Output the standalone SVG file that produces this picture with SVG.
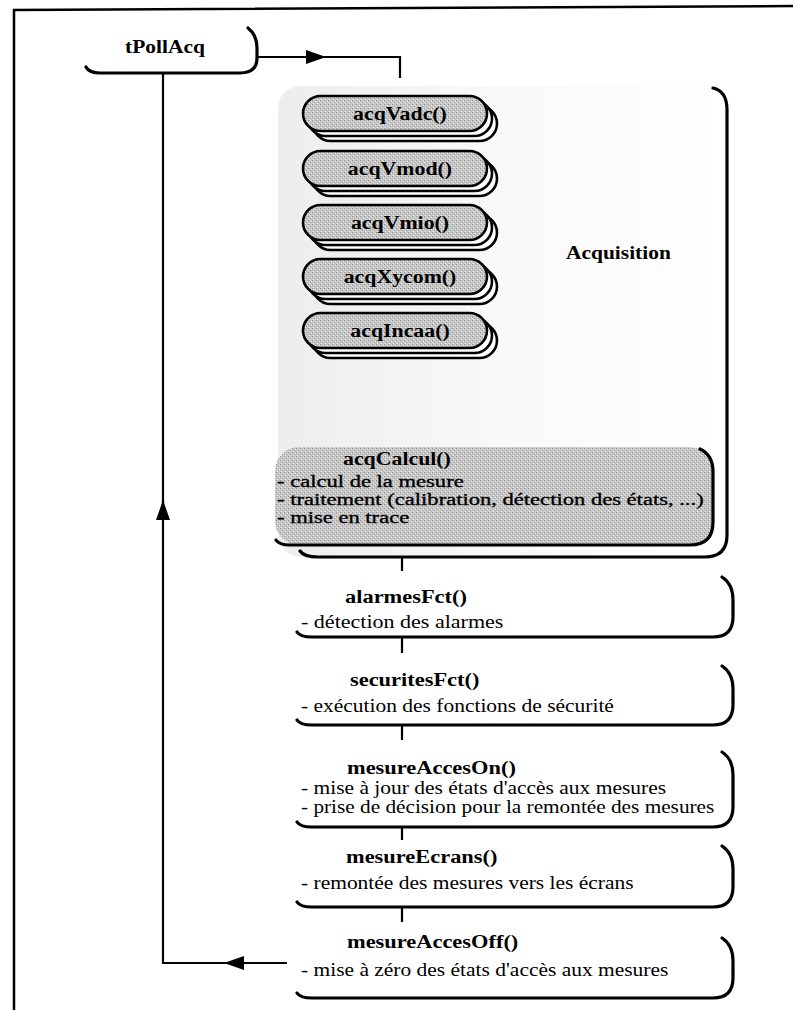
<svg xmlns="http://www.w3.org/2000/svg" width="793" height="1010" viewBox="0 0 793 1010">
  <defs>
    <style>
      .frame { fill: none; stroke: #000; stroke-width: 2.5; }
      .wire { fill: none; stroke: #000; stroke-width: 2.2; }
      .dash { fill: none; stroke: #000; stroke-width: 2.6; stroke-dasharray: 10 5; }
      .shadow { fill: none; stroke: #000; stroke-width: 3.2; stroke-linecap: round; }
      .card { fill: url(#stipple); stroke: #000; stroke-width: 2.6; }
      .cardback { fill: #fff; stroke: #000; stroke-width: 2.6; }
      .txt { font-family: "Liberation Serif", "Times New Roman", serif; font-size: 19px; fill: #000; }
      .b { font-weight: bold; font-size: 19.5px; }
      .heavy { stroke: #000; stroke-width: 0.35; font-size: 17.5px; }
      .mid { text-anchor: middle; }
    </style>
    <!-- halftone grey used for the acquisition routines -->
    <pattern id="stipple" width="4" height="4" patternUnits="userSpaceOnUse">
      <rect width="4" height="4" fill="#c6c6c6"/>
      <rect x="0" y="0" width="1" height="1" fill="#929292"/>
      <rect x="2" y="2" width="1" height="1" fill="#a2a2a2"/>
      <rect x="3" y="1" width="1" height="1" fill="#e6e6e6"/>
      <rect x="1" y="3" width="1" height="1" fill="#eeeeee"/>
    </pattern>
    <linearGradient id="haze" x1="0" y1="0" x2="1" y2="0">
      <stop offset="0" stop-color="#ededed"/>
      <stop offset="0.5" stop-color="#f9f9f9"/>
      <stop offset="1" stop-color="#ffffff"/>
    </linearGradient>
    <marker id="head" viewBox="0 0 20 14" refX="20" refY="7" markerWidth="20" markerHeight="14" markerUnits="userSpaceOnUse" orient="auto">
      <path d="M0,0 L20,7 L0,14 z" fill="#000"/>
    </marker>
  </defs>

  <rect width="793" height="1010" fill="#fff"/>

  <!-- page frame -->
  <path class="frame" d="M14,1010 V10 L793,6"/>

  <!-- connectors -->
  <g id="connectors">
    <path class="wire" d="M257,57 H326" marker-end="url(#head)"/>
    <path class="wire" d="M324,57 H400 V78"/>
    <path class="wire" d="M400,141 V151 M400,196 V205 M400,250 V259 M400,304 V313"/>
    <path class="dash" d="M400,358 V447"/>
    <path class="wire" d="M402,557 V571 M402,637 V653 M402,725 V740 M402,827 V840 M402,907 V922"/>
    <path class="wire" d="M287,963 H224" marker-end="url(#head)"/>
    <path class="wire" d="M226,963 H163 V500" marker-end="url(#head)"/>
    <path class="wire" d="M163,503 V74"/>
  </g>

  <!-- task -->
  <g id="tPollAcq">
    <path class="shadow" d="M248,28 Q257,35 257,48 V58 Q257,73 240,73 H100 Q89,73 86,67"/>
    <text class="txt b mid" transform="translate(165,53) scale(1.1 1)">tPollAcq</text>
  </g>

  <!-- acquisition block -->
  <g id="acquisition">
    <rect x="278" y="86" width="449" height="471" rx="22" fill="url(#haze)"/>
    <path class="shadow" d="M713,88 Q727,91 727,110 V535 Q727,557 705,557 H318 Q304,557 300,551"/>
    <text class="txt b" transform="translate(566,259) scale(1.1 1)">Acquisition</text>
  </g>

  <g id="acqVadc">
    <rect class="cardback" x="313" y="106" width="184" height="35" rx="17.5"/>
    <rect class="cardback" x="308" y="101" width="184" height="35" rx="17.5"/>
    <rect class="card" x="303" y="96" width="184" height="35" rx="17.5"/>
    <text class="txt b mid" transform="translate(400,120) scale(1.12 1)">acqVadc()</text>
  </g>
  <g id="acqVmod">
    <rect class="cardback" x="313" y="161" width="184" height="35" rx="17.5"/>
    <rect class="cardback" x="308" y="156" width="184" height="35" rx="17.5"/>
    <rect class="card" x="303" y="151" width="184" height="35" rx="17.5"/>
    <text class="txt b mid" transform="translate(400,175) scale(1.12 1)">acqVmod()</text>
  </g>
  <g id="acqVmio">
    <rect class="cardback" x="313" y="215" width="184" height="35" rx="17.5"/>
    <rect class="cardback" x="308" y="210" width="184" height="35" rx="17.5"/>
    <rect class="card" x="303" y="205" width="184" height="35" rx="17.5"/>
    <text class="txt b mid" transform="translate(400,229) scale(1.12 1)">acqVmio()</text>
  </g>
  <g id="acqXycom">
    <rect class="cardback" x="313" y="269" width="184" height="35" rx="17.5"/>
    <rect class="cardback" x="308" y="264" width="184" height="35" rx="17.5"/>
    <rect class="card" x="303" y="259" width="184" height="35" rx="17.5"/>
    <text class="txt b mid" transform="translate(400,283) scale(1.12 1)">acqXycom()</text>
  </g>
  <g id="acqIncaa">
    <rect class="cardback" x="313" y="323" width="184" height="35" rx="17.5"/>
    <rect class="cardback" x="308" y="318" width="184" height="35" rx="17.5"/>
    <rect class="card" x="303" y="313" width="184" height="35" rx="17.5"/>
    <text class="txt b mid" transform="translate(400,337) scale(1.12 1)">acqIncaa()</text>
  </g>

  <g id="acqCalcul">
    <rect x="275" y="447" width="438" height="98" rx="24" fill="url(#stipple)"/>
    <path class="shadow" d="M700,449 Q713,455 713,472 V522 Q713,545 690,545 H290 Q279,545 276,540"/>
    <text class="txt b" transform="translate(343,465) scale(1.12 1)">acqCalcul()</text>
    <text class="txt heavy" transform="translate(277,487) scale(1.29 1)">- calcul de la mesure</text>
    <text class="txt heavy" transform="translate(277,505) scale(1.29 1)">- traitement (calibration, détection des états, ...)</text>
    <text class="txt heavy" transform="translate(277,523) scale(1.29 1)">- mise en trace</text>
  </g>

  <!-- processing steps -->
  <g id="alarmesFct">
    <path class="shadow" d="M722,577 Q733,584 733,600 V617 Q733,637 713,637 H312 Q300,637 297,632"/>
    <text class="txt b" transform="translate(345,603) scale(1.15 1)">alarmesFct()</text>
    <text class="txt" transform="translate(301,628) scale(1.16 1)">- détection des alarmes</text>
  </g>
  <g id="securitesFct">
    <path class="shadow" d="M722,666 Q733,673 733,689 V705 Q733,725 713,725 H312 Q300,725 297,720"/>
    <text class="txt b" transform="translate(350,686) scale(1.15 1)">securitesFct()</text>
    <text class="txt" transform="translate(301,712) scale(1.13 1)">- exécution des fonctions de sécurité</text>
  </g>
  <g id="mesureAccesOn">
    <path class="shadow" d="M722,752 Q733,759 733,775 V807 Q733,827 713,827 H312 Q300,827 297,822"/>
    <text class="txt b" transform="translate(347,774) scale(1.15 1)">mesureAccesOn()</text>
    <text class="txt" transform="translate(301,794) scale(1.13 1)">- mise à jour des états d'accès aux mesures</text>
    <text class="txt" transform="translate(301,813) scale(1.12 1)">- prise de décision pour la remontée des mesures</text>
  </g>
  <g id="mesureEcrans">
    <path class="shadow" d="M722,846 Q733,853 733,869 V887 Q733,907 713,907 H312 Q300,907 297,902"/>
    <text class="txt b" transform="translate(346,863) scale(1.15 1)">mesureEcrans()</text>
    <text class="txt" transform="translate(301,889) scale(1.13 1)">- remontée des mesures vers les écrans</text>
  </g>
  <g id="mesureAccesOff">
    <path class="shadow" d="M722,938 Q733,945 733,961 V978 Q733,998 713,998 H312 Q300,998 297,993"/>
    <text class="txt b" transform="translate(347,948) scale(1.15 1)">mesureAccesOff()</text>
    <text class="txt" transform="translate(301,976) scale(1.13 1)">- mise à zéro des états d'accès aux mesures</text>
  </g>
</svg>
